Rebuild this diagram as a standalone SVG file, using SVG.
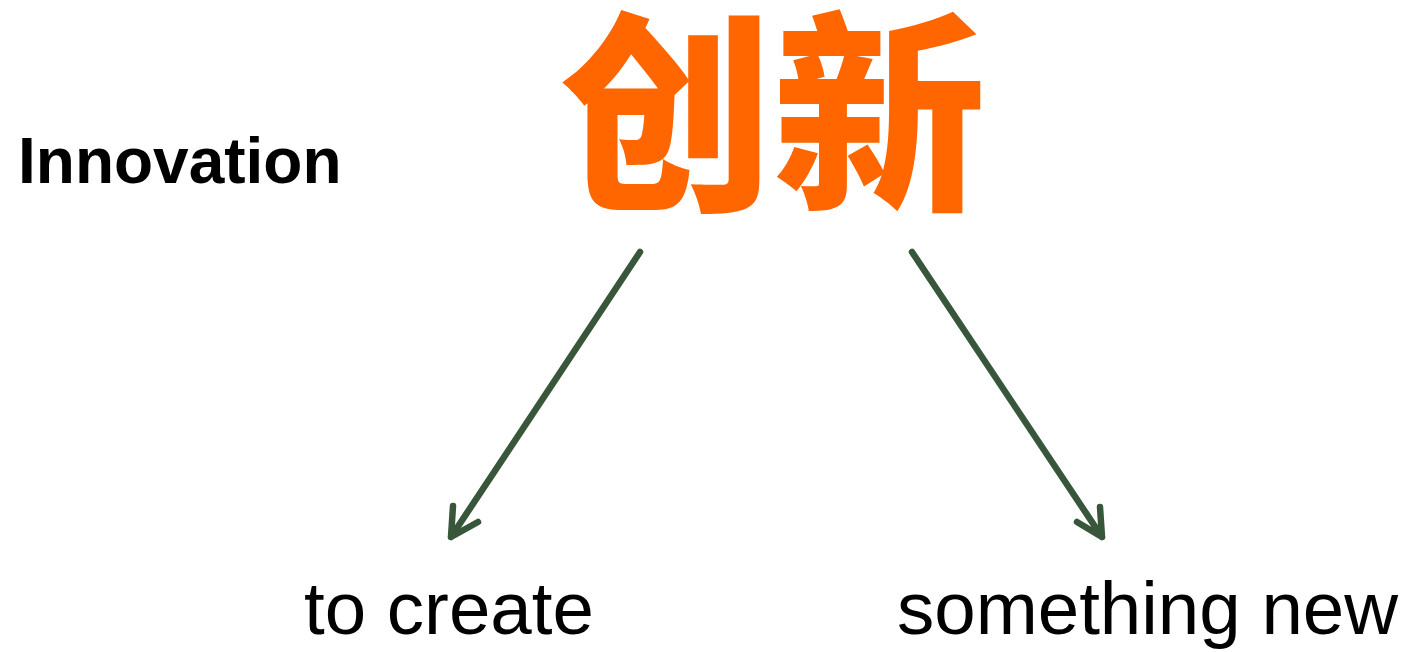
<svg xmlns="http://www.w3.org/2000/svg" width="1407" height="652" viewBox="0 0 1407 652">
<style>
.lbl{font-family:"Liberation Sans",Arial,sans-serif;fill:#000}
.conn{stroke:#38573A;stroke-width:6.5;fill:none;stroke-linecap:round;stroke-linejoin:round}
</style>
<rect width="1407" height="652" fill="#fff"/>
<g id="title-en"><text class="lbl" x="18" y="183" font-size="64" font-weight="bold">Innovation</text></g>
<g id="title-zh"><text x="773" y="193" font-family="'Noto Sans CJK SC',sans-serif" font-weight="900" font-size="213" fill="#FF6600" text-anchor="middle">创新</text></g>
<g id="to-create"><text class="lbl" x="304" y="634" font-size="74.5">to create</text></g>
<g id="something-new"><text class="lbl" x="897" y="634" font-size="74.5">something new</text></g>
<g id="connectors">
<path class="conn" d="M640,252 L451,537 M453,506 L451,537 L478,522"/>
<path class="conn" d="M912,252 L1102,537 M1100,507 L1102,537 L1077,522"/>
</g>
</svg>
